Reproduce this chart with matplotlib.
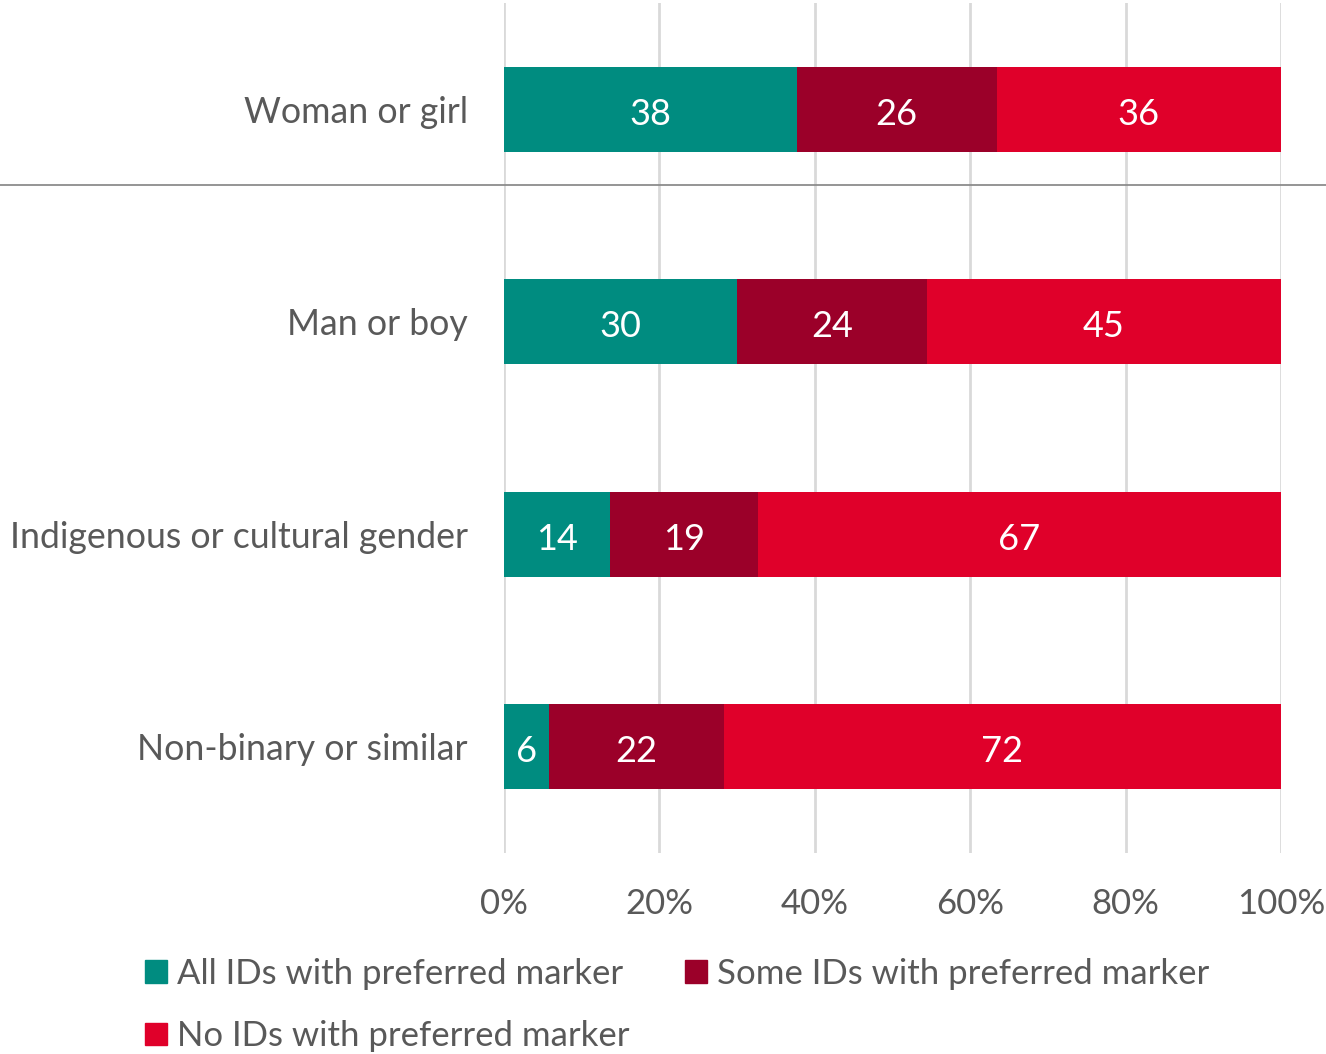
import numpy as np
import matplotlib
matplotlib.use("Agg")
import matplotlib.pyplot as plt
from matplotlib.patches import Patch
from matplotlib.lines import Line2D

# data (percent of respondents)
categories = ["Woman or girl", "Man or boy", "Indigenous or cultural gender", "Non-binary or similar"]
all_ids = [37.7, 30.0, 13.6, 5.8]
some_ids = [25.7, 24.4, 19.1, 22.5]
no_ids = [36.6, 45.6, 67.3, 71.7]
all_lbl = [38, 30, 14, 6]
some_lbl = [26, 24, 19, 22]
no_lbl = [36, 45, 67, 72]
series_names = ["All IDs with preferred marker", "Some IDs with preferred marker", "No IDs with preferred marker"]

colors = ["#008C80", "#9B0029", "#E0002A"]
grey = "#595959"

plt.rcParams['font.family'] = ['Lato', 'DejaVu Sans']

fig = plt.figure(figsize=(13.26, 10.54), dpi=100)
ax = fig.add_axes([504/1326, 1-853/1054, 777/1326, 850/1054])

y = np.arange(len(categories))
left = np.zeros(len(categories))
for vals, lbls, c in zip([all_ids, some_ids, no_ids], [all_lbl, some_lbl, no_lbl], colors):
    bars = ax.barh(y, vals, left=left, height=0.4, color=c, zorder=3)
    for b, v, l in zip(bars, vals, lbls):
        # nudge a touch down, numbers sit slightly low in the original
        ax.text(b.get_x() + v/2, b.get_y() + b.get_height()/2 + 0.01, str(l),
                ha='center', va='center_baseline', color='white', fontsize=26, zorder=4)
    left += np.array(vals)

ax.set_xlim(0, 100)
ax.set_ylim(3.5, -0.5)
ax.set_xticks(np.arange(0, 101, 20))
ax.set_xticklabels([f"{v}%" for v in range(0, 101, 20)])
ax.set_yticks(y)
ax.set_yticklabels(categories)
ax.tick_params(axis='x', length=0, pad=25, labelsize=25, labelcolor=grey)
ax.tick_params(axis='y', length=0, pad=26, labelsize=25.7, labelcolor=grey)
ax.grid(axis='x', color='#D9D9D9', linewidth=2, zorder=0)
for s in ax.spines.values():
    s.set_visible(False)

# separator under the first group
fig.add_artist(Line2D([0, 1], [1-185/1054, 1-185/1054], transform=fig.transFigure,
                      color='#8C8C8C', linewidth=1.3))

handles = [Patch(color=colors[0]), Patch(color=colors[2]), Patch(color=colors[1])]
labels = [series_names[0], series_names[2], series_names[1]]
fig.legend(handles, labels, ncol=2, loc='upper left', bbox_to_anchor=(145/1326, 1-958/1054),
           frameon=False, fontsize=25, labelcolor=grey, handlelength=0.63, handleheight=0.63,
           handletextpad=0.29, columnspacing=1.6, labelspacing=0.87, borderpad=0,
           borderaxespad=0)

fig.savefig("out.png", dpi=100)
